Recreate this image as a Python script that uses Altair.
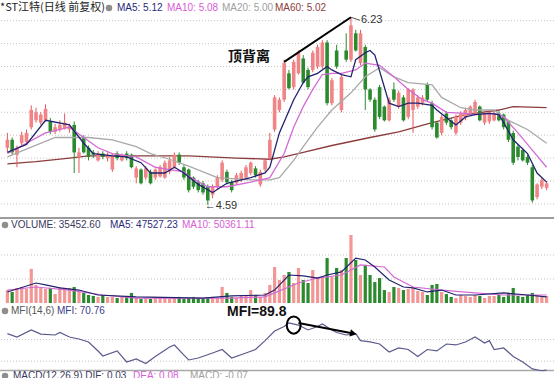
import altair as alt
import pandas as pd

# ---------------- data ----------------
opens = [5.09, 5.16, 5.03, 5.13, 5.14, 5.27, 5.33, 5.31, 5.33, 5.32,
         5.23, 5.25, 5.26, 5.25, 5.29, 5.01, 5.18, 5.09, 5.05, 4.98,
         5.04, 5.00, 4.90, 5.04, 4.98, 5.04, 5.03, 4.83, 4.90, 4.83,
         4.88, 4.83, 4.84, 4.83, 4.88, 4.92, 5.03, 4.92, 4.90, 4.83,
         4.79, 4.78, 4.75, 4.68, 4.75, 4.81, 4.88, 4.79, 4.78, 4.81,
         4.83, 4.87, 4.91, 4.77, 4.90, 5.00, 5.25, 5.42, 5.51, 5.74,
         5.62, 5.74, 5.87, 5.77, 5.77, 5.80, 5.80, 6.01, 5.48, 5.94,
         5.42, 5.94, 5.86, 6.09, 5.83, 5.97, 5.60, 5.51, 5.62, 5.45,
         5.33, 5.60, 5.45, 5.53, 5.36, 5.42, 5.45, 5.48, 5.64, 5.48,
         5.31, 5.22, 5.39, 5.33, 5.22, 5.31, 5.35, 5.39, 5.39, 5.45,
         5.31, 5.32, 5.33, 5.39, 5.38, 5.32, 5.22, 5.10, 5.07, 5.01,
         4.92, 4.66, 4.75, 4.74]
closes = [5.16, 5.05, 5.09, 5.20, 5.22, 5.42, 5.40, 5.38, 5.43, 5.23,
          5.27, 5.29, 5.31, 5.28, 5.05, 5.05, 5.05, 5.01, 5.03, 5.04,
          5.01, 5.03, 5.03, 5.00, 5.03, 5.00, 4.92, 4.91, 4.78, 4.91,
          4.78, 4.90, 4.92, 4.96, 4.98, 5.03, 4.96, 4.83, 4.72, 4.75,
          4.72, 4.70, 4.63, 4.75, 4.83, 4.96, 4.79, 4.72, 4.85, 4.87,
          4.92, 4.96, 4.85, 4.88, 4.98, 5.16, 5.53, 5.51, 5.83, 5.61,
          5.84, 5.92, 5.66, 5.62, 5.92, 5.97, 6.01, 5.48, 5.68, 5.80,
          5.71, 5.86, 6.16, 5.94, 6.09, 5.60, 5.51, 5.25, 5.36, 5.33,
          5.51, 5.51, 5.57, 5.33, 5.60, 5.60, 5.53, 5.53, 5.51, 5.27,
          5.18, 5.36, 5.31, 5.27, 5.36, 5.39, 5.42, 5.45, 5.49, 5.33,
          5.39, 5.40, 5.39, 5.33, 5.27, 5.16, 4.96, 5.01, 4.98, 4.96,
          4.63, 4.77, 4.81, 4.78]
highs = [5.22, 5.18, 5.11, 5.23, 5.25, 5.46, 5.44, 5.40, 5.47, 5.35,
         5.30, 5.33, 5.39, 5.30, 5.32, 5.09, 5.20, 5.11, 5.07, 5.06,
         5.06, 5.05, 5.04, 5.06, 5.04, 5.06, 5.04, 4.93, 4.91, 4.93,
         4.90, 4.91, 4.94, 4.98, 5.01, 5.05, 5.05, 4.94, 4.91, 4.84,
         4.81, 4.80, 4.77, 4.77, 4.85, 4.98, 4.90, 4.81, 4.87, 4.89,
         4.94, 4.97, 4.93, 4.90, 5.00, 5.22, 5.55, 5.53, 5.86, 5.77,
         5.86, 5.94, 5.90, 5.79, 5.94, 5.99, 6.03, 6.03, 5.70, 5.99,
         5.73, 6.09, 6.23, 6.12, 6.12, 5.99, 5.61, 5.53, 5.64, 5.46,
         5.53, 5.66, 5.59, 5.55, 5.61, 5.61, 5.55, 5.55, 5.66, 5.50,
         5.32, 5.38, 5.41, 5.35, 5.38, 5.41, 5.44, 5.46, 5.51, 5.46,
         5.41, 5.42, 5.41, 5.41, 5.39, 5.33, 5.24, 5.12, 5.09, 5.03,
         4.94, 4.78, 4.83, 4.80]
lows = [5.05, 5.03, 4.92, 5.11, 5.12, 5.25, 5.31, 5.29, 5.32, 5.21,
        5.21, 5.23, 5.25, 5.22, 4.87, 4.87, 5.04, 4.98, 5.00, 4.97,
        4.99, 4.97, 4.88, 4.98, 4.97, 4.98, 4.91, 4.78, 4.77, 4.81,
        4.77, 4.81, 4.83, 4.82, 4.86, 4.91, 4.94, 4.81, 4.70, 4.73,
        4.70, 4.68, 4.59, 4.65, 4.73, 4.79, 4.77, 4.70, 4.77, 4.79,
        4.82, 4.85, 4.83, 4.75, 4.88, 4.98, 5.23, 5.40, 5.49, 5.60,
        5.60, 5.73, 5.65, 5.60, 5.75, 5.78, 5.78, 5.46, 5.46, 5.78,
        5.40, 5.84, 5.84, 5.93, 5.81, 5.42, 5.49, 5.23, 5.34, 5.32,
        5.32, 5.49, 5.43, 5.32, 5.34, 5.22, 5.43, 5.46, 5.49, 5.25,
        5.17, 5.20, 5.29, 5.25, 5.20, 5.29, 5.33, 5.38, 5.38, 5.32,
        5.29, 5.30, 5.32, 5.32, 5.25, 5.14, 4.94, 4.98, 4.97, 4.94,
        4.61, 4.64, 4.73, 4.72]
volumes = [81000, 69000, 94000, 100000, 88000, 213000, 113000, 94000, 88000, 94000,
           56000, 100000, 94000, 94000, 100000, 69000, 63000, 50000, 44000, 38000,
           50000, 38000, 38000, 31000, 38000, 44000, 63000, 31000, 25000, 31000,
           25000, 38000, 31000, 31000, 25000, 31000, 38000, 25000, 31000, 38000,
           31000, 25000, 31000, 38000, 31000, 100000, 63000, 38000, 31000, 50000,
           44000, 81000, 50000, 38000, 63000, 113000, 225000, 144000, 175000, 194000,
           125000, 219000, 144000, 125000, 206000, 163000, 163000, 281000, 163000, 219000,
           206000, 281000, 425000, 269000, 175000, 238000, 175000, 131000, 156000, 81000,
           69000, 100000, 94000, 81000, 88000, 94000, 75000, 69000, 50000, 113000,
           119000, 69000, 56000, 38000, 31000, 50000, 44000, 38000, 50000, 44000,
           31000, 44000, 44000, 50000, 38000, 63000, 94000, 44000, 38000, 50000,
           63000, 50000, 44000, 44000]

ma5_i = [0, 4, 8, 13, 16, 18, 22, 25, 28, 30, 33, 35, 37, 40, 43, 46, 51, 54, 55, 57,
         60, 62, 63, 65, 67, 68, 70, 72, 73, 75, 76, 77, 80, 82, 84, 86, 89, 90, 93, 94,
         96, 98, 101, 103, 104, 106, 109, 111, 113]
ma5_v = [5.05, 5.12, 5.33, 5.29, 5.13, 5.04, 5.02, 5.01, 4.96, 4.87, 4.87, 4.92, 4.87, 4.77,
         4.70, 4.78, 4.83, 4.87, 4.92, 5.22, 5.51, 5.66, 5.71, 5.74, 5.80, 5.77, 5.73, 5.71,
         5.86, 5.92, 5.94, 5.90, 5.48, 5.45, 5.48, 5.48, 5.46, 5.42, 5.32, 5.29, 5.36, 5.38,
         5.39, 5.38, 5.31, 5.16, 5.04, 4.87, 4.79]
ma10_i = [0, 8, 13, 16, 19, 22, 27, 31, 34, 37, 38, 42, 46, 51, 55, 58, 60, 62, 64, 66,
          68, 70, 73, 75, 78, 81, 84, 87, 89, 92, 96, 98, 102, 104, 107, 110, 113]
ma10_v = [5.04, 5.22, 5.27, 5.18, 5.09, 5.04, 5.01, 4.92, 4.90, 4.88, 4.84, 4.75, 4.75, 4.79,
          4.83, 5.04, 5.27, 5.45, 5.60, 5.73, 5.74, 5.74, 5.77, 5.83, 5.81, 5.71, 5.60, 5.51,
          5.48, 5.40, 5.39, 5.38, 5.39, 5.36, 5.22, 5.07, 4.92]
ma20_i = [0, 10, 13, 17, 22, 27, 30, 34, 38, 44, 51, 55, 57, 60, 62, 65, 68, 72, 75, 78,
          81, 84, 89, 91, 95, 98, 102, 105, 109, 113]
ma20_v = [5.01, 5.18, 5.18, 5.18, 5.16, 5.10, 5.04, 4.99, 4.93, 4.83, 4.81, 4.81, 4.83, 4.98,
          5.10, 5.27, 5.42, 5.57, 5.71, 5.79, 5.71, 5.66, 5.64, 5.53, 5.44, 5.42, 5.42, 5.33,
          5.25, 5.13]
ma60_i = [0, 6, 13, 17, 24, 30, 38, 48, 55, 58, 62, 68, 76, 82, 89, 96, 103, 106, 113]
ma60_v = [4.95, 4.97, 5.00, 5.02, 5.02, 5.02, 5.02, 5.00, 4.99, 5.01, 5.05, 5.11, 5.18, 5.23,
          5.31, 5.38, 5.42, 5.45, 5.44]

vma5_i = [0, 6, 8, 11, 15, 19, 27, 41, 47, 54, 56, 59, 62, 65, 67, 70, 73, 75, 77, 80,
          83, 85, 88, 91, 94, 98, 104, 109, 113]
vma5_v = [69000, 125000, 113000, 94000, 81000, 50000, 38000, 31000, 44000, 50000,
          81000, 175000, 169000, 156000, 175000, 194000, 281000, 269000, 225000, 144000,
          100000, 94000, 69000, 81000, 50000, 50000, 63000, 50000, 38000]
vma10_i = [0, 6, 13, 20, 27, 47, 54, 56, 61, 65, 70, 74, 79, 81, 85, 91, 98, 104, 113]
vma10_v = [81000, 100000, 81000, 50000, 31000, 31000, 38000, 63000, 125000, 156000,
           175000, 238000, 225000, 163000, 100000, 81000, 63000, 50000, 50000]

mfi_i = [0, 2, 5, 7, 10, 11, 13, 15, 17, 19, 20, 23, 25, 27, 29, 31, 34, 35, 37, 38,
         40, 43, 45, 47, 50, 52, 54, 56, 58, 59, 61, 63, 65, 66, 68, 69, 71, 73, 74, 76,
         78, 80, 82, 84, 86, 88, 90, 92, 94, 96, 98, 100, 101, 102, 104, 106, 108, 110, 112, 113]
mfi_v = [81.0, 78.1, 84.0, 80.6, 79.8, 81.9, 78.1, 76.5, 74.0, 66.5, 62.3, 66.5, 57.3, 59.8,
         56.0, 61.9, 69.8, 71.5, 63.1, 59.0, 60.6, 64.8, 67.7, 60.6, 64.8, 67.7, 75.1, 83.1,
         86.9, 89.8, 88.1, 84.0, 86.9, 89.0, 84.0, 81.9, 79.8, 81.0, 75.1, 74.0, 72.3, 65.6,
         69.0, 67.7, 61.9, 67.7, 66.5, 72.3, 71.5, 74.0, 78.1, 73.1, 75.1, 67.7, 69.0, 61.9,
         57.3, 51.5, 50.0, 50.6]

price_grid = [4.6, 4.8, 5.0, 5.2, 5.4, 5.6, 5.8, 6.0, 6.2]
vol_grid = [150000, 300000]
mfi_grid = [58, 76]

trend_i = [58, 72]
trend_p = [5.84, 6.23]
mfi_arrow_i = [61, 72.5]
mfi_arrow_v = [89.8, 81.0]
mfi_circle_i = [60]
mfi_circle_v = [88.1]

title_texts = ["*ST江特(日线 前复权)", "MA5: 5.12", "MA10: 5.08", "MA20: 5.00", "MA60: 5.02"]
vol_texts = ["VOLUME: 35452.60", "MA5: 47527.23", "MA10: 50361.11"]
mfi_texts = ["MFI(14,6)", "MFI: 70.76"]
macd_texts = ["MACD(12,26,9)  DIF: 0.03", "DEA: 0.08", "MACD: -0.07"]
note_top = "顶背离"
note_mfi = "MFI=89.8"

# ---------------- chart ----------------
N = len(opens)
candles = pd.DataFrame({"i": list(range(N)), "o": opens, "c": closes, "h": highs,
                        "l": lows, "vol": volumes})
candles["dir"] = ["up" if c >= o else "down" for o, c in zip(opens, closes)]

PRICE_DOM = [3.0795, 6.3808]
VOL_DOM = [-468750, 1893750]
MFI_DOM = [43.97, 358.97]

FONT = "Liberation Sans, Arial, Noto Sans CJK SC, sans-serif"
CJK = "Noto Sans CJK SC, sans-serif"

X = alt.X("i:Q", scale=alt.Scale(domain=[-0.5, N - 0.5], nice=False, zero=False), axis=None)


def Y(field, dom):
    return alt.Y(f"{field}:Q", scale=alt.Scale(domain=dom, nice=False, zero=False), axis=None)


RED_BODY = "#f08486"
RED_LINE = "#e4585c"
GREEN = "#2b8a2e"
is_up = "datum.dir == 'up'"

one = pd.DataFrame({"k": [0]})
layers = []

# gridlines
layers.append(alt.Chart(pd.DataFrame({"g": price_grid})).mark_rule(
    color="#c4c4c4", strokeDash=[1, 2], strokeWidth=1).encode(y=Y("g", PRICE_DOM)))
layers.append(alt.Chart(pd.DataFrame({"g": vol_grid})).mark_rule(
    color="#c4c4c4", strokeDash=[1, 2], strokeWidth=1).encode(y=Y("g", VOL_DOM)))
layers.append(alt.Chart(pd.DataFrame({"g": mfi_grid})).mark_rule(
    color="#c4c4c4", strokeDash=[1, 2], strokeWidth=1).encode(y=Y("g", MFI_DOM)))

# panel separators
layers.append(alt.Chart(one).mark_rule(color="#9c9c9c", strokeWidth=2).encode(
    x=alt.value(0), x2=alt.value(554), y=alt.value(218)))
layers.append(alt.Chart(one).mark_rule(color="#a8a8a8", strokeWidth=1.5).encode(
    x=alt.value(0), x2=alt.value(554), y=alt.value(370.5)))


def ma_line(ii, vv, color, dom, width=1.3):
    df = pd.DataFrame({"i": ii, "v": vv})
    return alt.Chart(df).mark_line(color=color, strokeWidth=width).encode(x=X, y=Y("v", dom))


layers.append(ma_line(ma60_i, ma60_v, "#8c3c3c", PRICE_DOM))

# candles
layers.append(alt.Chart(candles).mark_rule(strokeWidth=1).encode(
    x=X, y=Y("l", PRICE_DOM), y2="h:Q",
    color=alt.condition(is_up, alt.value(RED_LINE), alt.value(GREEN))))
layers.append(alt.Chart(candles).mark_bar(width=3.6).encode(
    x=X, y=Y("o", PRICE_DOM), y2="c:Q",
    color=alt.condition(is_up, alt.value(RED_BODY), alt.value(GREEN))))

layers.append(ma_line(ma20_i, ma20_v, "#a9a9a9", PRICE_DOM))
layers.append(ma_line(ma10_i, ma10_v, "#d46ad4", PRICE_DOM))
layers.append(ma_line(ma5_i, ma5_v, "#22226e", PRICE_DOM))

# volume
layers.append(alt.Chart(candles).mark_bar(width=3.2).encode(
    x=X, y=Y("vol", VOL_DOM), y2=alt.datum(0),
    color=alt.condition(is_up, alt.value("#f29696"), alt.value(GREEN))))
layers.append(ma_line(vma10_i, vma10_v, "#d46ad4", VOL_DOM, 1.2))
layers.append(ma_line(vma5_i, vma5_v, "#22226e", VOL_DOM, 1.2))

# MFI
layers.append(ma_line(mfi_i, mfi_v, "#5a5a8c", MFI_DOM, 1.2))

# annotations: price
layers.append(alt.Chart(pd.DataFrame({"i": trend_i, "v": trend_p})).mark_line(
    color="black", strokeWidth=2).encode(x=X, y=Y("v", PRICE_DOM)))

peak = candles.loc[[candles["h"].idxmax()]].copy()
peak["label"] = [f"{v:.2f}" for v in peak["h"]]
low = candles.loc[[candles["l"].idxmin()]].copy()
low["label"] = ["←" + f"{v:.2f}" for v in low["l"]]

layers.append(alt.Chart(peak).mark_rule(color="#555555", strokeWidth=1, x2Offset=9, y2Offset=3).encode(
    x=X, y=Y("h", PRICE_DOM), x2="i:Q", y2="h:Q"))
layers.append(alt.Chart(peak).mark_text(align="left", baseline="middle", dx=10, dy=3,
                                        fontSize=11, font=FONT, color="#333333").encode(
    x=X, y=Y("h", PRICE_DOM), text="label:N"))
layers.append(alt.Chart(low).mark_text(align="left", baseline="middle", dx=-3, dy=1,
                                       fontSize=11, font=FONT, color="#333333").encode(
    x=X, y=Y("l", PRICE_DOM), text="label:N"))

# annotations: MFI
layers.append(alt.Chart(pd.DataFrame({"i": mfi_arrow_i, "v": mfi_arrow_v})).mark_line(
    color="black", strokeWidth=2).encode(x=X, y=Y("v", MFI_DOM)))
layers.append(alt.Chart(pd.DataFrame({"i": mfi_arrow_i[1:], "v": mfi_arrow_v[1:]})).mark_point(
    shape="triangle-right", filled=True, size=55, angle=11, color="black", opacity=1).encode(
    x=X, y=Y("v", MFI_DOM)))
ELLIPSE = "M -0.8 0 A 0.8 1 0 1 0 0.8 0 A 0.8 1 0 1 0 -0.8 0 Z"
layers.append(alt.Chart(pd.DataFrame({"i": mfi_circle_i, "v": mfi_circle_v})).mark_point(
    shape=ELLIPSE, filled=False, size=300, strokeWidth=2, color="black", opacity=1).encode(
    x=X, y=Y("v", MFI_DOM)))


def label(txt, x, y, color, size=10, weight="normal", font=FONT):
    return alt.Chart(one).mark_text(align="left", baseline="middle", fontSize=size,
                                    fontWeight=weight, font=font, color=color).encode(
        x=alt.value(x), y=alt.value(y), text=alt.value(txt))


def icon(x, y):
    return alt.Chart(one).mark_point(shape="circle", filled=True, size=42,
                                     color="#8e8e8e", opacity=1).encode(
        x=alt.value(x), y=alt.value(y))


layers.append(label(note_top, 228, 57, "#111111", 14, "bold", CJK))
layers.append(label(note_mfi, 227, 312, "#111111", 14, "bold"))

# headers
layers.append(label(title_texts[0], 0, 8, "#222222", 11, "normal", CJK))
layers.append(icon(109, 8))
layers.append(label(title_texts[1], 117, 8, "#2a2a7a"))
layers.append(label(title_texts[2], 167, 8, "#d65ed6"))
layers.append(label(title_texts[3], 222, 8, "#a0a0a0"))
layers.append(label(title_texts[4], 275, 8, "#8c3c3c"))

layers.append(icon(5, 225))
layers.append(label(vol_texts[0], 11, 225, "#3a3a5c"))
layers.append(label(vol_texts[1], 110, 225, "#2a2a7a"))
layers.append(label(vol_texts[2], 182, 225, "#d65ed6"))

layers.append(icon(5, 311))
layers.append(label(mfi_texts[0], 11, 311, "#555555"))
layers.append(label(mfi_texts[1], 57, 311, "#3a3a8a"))

layers.append(icon(5, 376))
layers.append(label(macd_texts[0], 13, 376, "#3a3a5c"))
layers.append(label(macd_texts[1], 133, 376, "#d65ed6"))
layers.append(label(macd_texts[2], 190, 376, "#a0a0a0"))

chart = alt.layer(*layers).resolve_scale(y="independent").properties(
    width=554, height=378, autosize=alt.AutoSizeParams(type="none"), padding=0,
    background="white"
).configure_view(stroke=None)

chart.save("out.html", embed_options={"renderer": "svg", "actions": False})
